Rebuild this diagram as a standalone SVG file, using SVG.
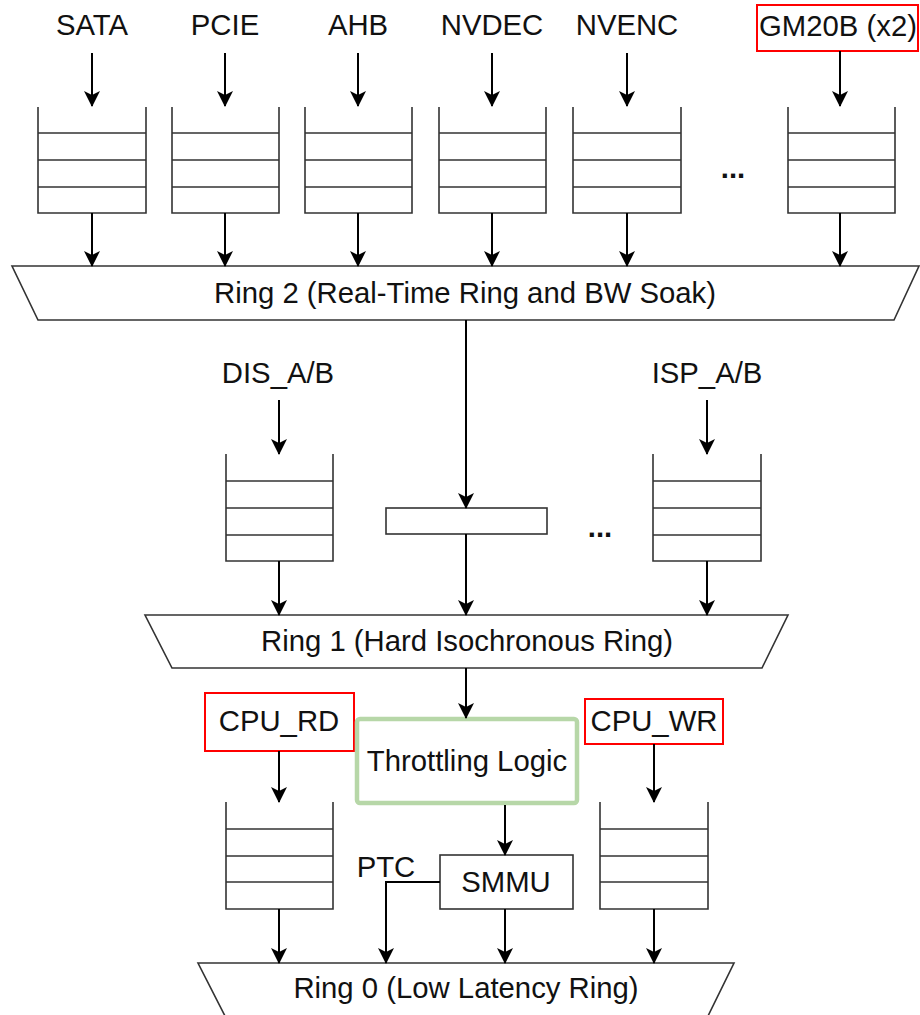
<svg xmlns="http://www.w3.org/2000/svg" width="920" height="1015" viewBox="0 0 920 1015">
<style>
text{font-family:"Liberation Sans",Arial,sans-serif;font-size:29.3px;fill:#111;text-anchor:middle}
.dots{font-weight:bold}
.q{fill:none;stroke:#333;stroke-width:1.6}
.ring{fill:#fff;stroke:#333;stroke-width:1.6}
.box{fill:#fff;stroke:#333;stroke-width:1.6}
.red{fill:#fff;stroke:#ff0000;stroke-width:2}
.green{fill:#fff;stroke:#b7d7a8;stroke-width:4.5}
.c{fill:none;stroke:#000;stroke-width:2;marker-end:url(#ah)}
</style>
<defs>
<marker id="ah" markerUnits="userSpaceOnUse" viewBox="0 0 16 17" refX="15" refY="8.5" markerWidth="16" markerHeight="17" orient="auto">
<path d="M0,0.5 L16,8.5 L0,16.5 L4,8.5 Z" fill="#000"/>
</marker>
</defs>

<g id="ring2"><polygon class="ring" points="12,266 919,266 894,320 38,320"/><text x="465" y="303">Ring 2 (Real-Time Ring and BW Soak)</text></g>
<g id="ring1"><polygon class="ring" points="145,615 788,615 762,668 172,668"/><text x="467" y="651">Ring 1 (Hard Isochronous Ring)</text></g>
<g id="ring0"><polygon class="ring" points="198,963 734,963 708,1016 225,1016"/><text x="466" y="998">Ring 0 (Low Latency Ring)</text></g>

<g id="sata"><text x="92" y="35">SATA</text></g>
<g id="pcie"><text x="225" y="35">PCIE</text></g>
<g id="ahb"><text x="358" y="35">AHB</text></g>
<g id="nvdec"><text x="492" y="35">NVDEC</text></g>
<g id="nvenc"><text x="627" y="35">NVENC</text></g>
<g id="gm20b"><rect class="red" x="757" y="5" width="161" height="46"/><text x="838" y="36">GM20B (x2)</text></g>

<g id="q-sata"><path class="q" d="M38,107 V213 H146 V107 M38,133 H146 M38,160 H146 M38,187 H146"/></g>
<g id="q-pcie"><path class="q" d="M172,107 V213 H279 V107 M172,133 H279 M172,160 H279 M172,187 H279"/></g>
<g id="q-ahb"><path class="q" d="M305,107 V213 H412 V107 M305,133 H412 M305,160 H412 M305,187 H412"/></g>
<g id="q-nvdec"><path class="q" d="M439,107 V213 H546 V107 M439,133 H546 M439,160 H546 M439,187 H546"/></g>
<g id="q-nvenc"><path class="q" d="M573,107 V213 H681 V107 M573,133 H681 M573,160 H681 M573,187 H681"/></g>
<g id="q-gm20b"><path class="q" d="M788,107 V213 H895 V107 M788,133 H895 M788,160 H895 M788,187 H895"/></g>
<g id="dots-top"><text class="dots" x="733" y="178">...</text></g>

<g id="dis"><text x="278" y="383">DIS_A/B</text></g>
<g id="isp"><text x="707" y="383">ISP_A/B</text></g>
<g id="q-dis"><path class="q" d="M226,454 V561 H333 V454 M226,481 H333 M226,508 H333 M226,535 H333"/></g>
<g id="q-isp"><path class="q" d="M653,454 V561 H761 V454 M653,481 H761 M653,508 H761 M653,535 H761"/></g>
<g id="buffer"><rect class="box" x="386" y="508" width="161" height="26"/></g>
<g id="dots-mid"><text class="dots" x="600" y="537">...</text></g>

<g id="cpu-rd"><rect class="red" x="205" y="693" width="149" height="58"/><text x="279" y="731">CPU_RD</text></g>
<g id="cpu-wr"><rect class="red" x="585" y="699" width="138" height="45"/><text x="654" y="731">CPU_WR</text></g>
<g id="throttling"><rect class="green" x="357" y="719" width="220" height="84" rx="3"/><text x="467" y="771">Throttling Logic</text></g>
<g id="smmu"><rect class="box" x="440" y="855" width="133" height="54"/><text x="506" y="892">SMMU</text></g>
<g id="ptc"><text x="386" y="877">PTC</text></g>
<g id="q-cpurd"><path class="q" d="M226,802 V909 H333 V802 M226,829 H333 M226,856 H333 M226,882 H333"/></g>
<g id="q-cpuwr"><path class="q" d="M600,802 V909 H708 V802 M600,829 H708 M600,856 H708 M600,882 H708"/></g>

<g id="connectors">
<line class="c" x1="92" y1="53" x2="92" y2="106"/>
<line class="c" x1="225" y1="53" x2="225" y2="106"/>
<line class="c" x1="358" y1="53" x2="358" y2="106"/>
<line class="c" x1="492" y1="53" x2="492" y2="106"/>
<line class="c" x1="627" y1="53" x2="627" y2="106"/>
<line class="c" x1="840" y1="51" x2="840" y2="106"/>
<line class="c" x1="92" y1="213" x2="92" y2="266"/>
<line class="c" x1="225" y1="213" x2="225" y2="266"/>
<line class="c" x1="358" y1="213" x2="358" y2="266"/>
<line class="c" x1="492" y1="213" x2="492" y2="266"/>
<line class="c" x1="627" y1="213" x2="627" y2="266"/>
<line class="c" x1="840" y1="213" x2="840" y2="266"/>
<line class="c" x1="466" y1="320" x2="466" y2="508"/>
<line class="c" x1="279" y1="400" x2="279" y2="454"/>
<line class="c" x1="707" y1="400" x2="707" y2="454"/>
<line class="c" x1="279" y1="561" x2="279" y2="615"/>
<line class="c" x1="466" y1="534" x2="466" y2="615"/>
<line class="c" x1="707" y1="561" x2="707" y2="615"/>
<line class="c" x1="466" y1="668" x2="466" y2="718"/>
<line class="c" x1="279" y1="751" x2="279" y2="802"/>
<line class="c" x1="654" y1="744" x2="654" y2="802"/>
<line class="c" x1="505" y1="805" x2="505" y2="855"/>
<line class="c" x1="279" y1="909" x2="279" y2="963"/>
<line class="c" x1="505" y1="909" x2="505" y2="963"/>
<line class="c" x1="654" y1="909" x2="654" y2="963"/>
<path class="c" d="M440,882 H386 V963"/>
</g>
</svg>
